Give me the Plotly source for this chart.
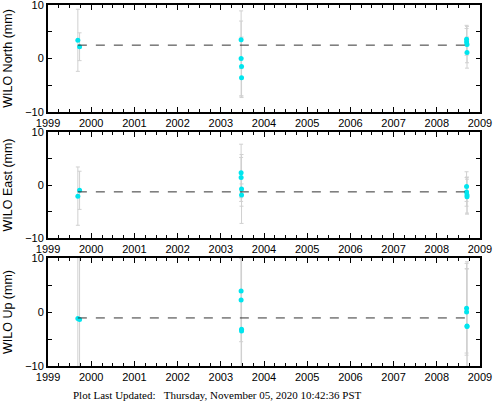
import plotly.graph_objects as go

# epoch times (decimal year) shared by the three components
epochs = [1999.69, 1999.73, 2003.47, 2003.47, 2003.48, 2003.48,
          2008.69, 2008.69, 2008.70, 2008.70]

north = [3.4, 2.2, 3.5, 0.0, -1.5, -3.6, 3.6, 3.1, 2.6, 1.1]
north_err = [5.8, 2.6, 5.4, 7.0, 5.5, 3.7, 2.6, 2.5, 3.4, 2.9]
north_mean = 2.5

east = [-2.1, -1.0, 2.3, 1.4, -0.75, -1.9, -0.3, -1.3, -1.9, -2.2]
east_err = [5.5, 3.6, 5.4, 3.8, 6.5, 2.1, 2.8, 2.7, 3.4, 3.3]
east_mean = -1.3

up = [-1.2, -1.4, 3.9, 2.2, -3.2, -3.5, 0.7, 0.0, -2.6, -2.7]
up_err = [13.0, 16.0, 14.0, 7.7, 14.0, 15.0, 8.3, 8.0, 10.6, 12.0]
up_mean = -1.1

panels = [
    ("WILO North (mm)", north, north_err, north_mean),
    ("WILO East (mm)", east, east_err, east_mean),
    ("WILO Up (mm)", up, up_err, up_mean),
]

W, H = 493, 404
x0, x1 = 48, 480
panel_px = [(5, 112), (132, 238), (258, 366)]

FONT = "Liberation Sans Narrow, Liberation Sans, Arial, sans-serif"

fig = go.Figure()
for i, (label, vals, errs, mean) in enumerate(panels):
    n = "" if i == 0 else str(i + 1)
    # error bars + points
    fig.add_trace(go.Scatter(
        x=epochs, y=vals, mode="markers",
        marker=dict(color="#00E5EE", size=5),
        error_y=dict(type="data", array=errs, visible=True,
                     color="#d0d0d0", thickness=1, width=2),
        xaxis="x" + n, yaxis="y" + n, showlegend=False,
    ))
    # mean line across the span of epochs
    fig.add_trace(go.Scatter(
        x=[epochs[0], epochs[-1]], y=[mean, mean], mode="lines",
        line=dict(color="#333333", width=1, dash="dash"),
        xaxis="x" + n, yaxis="y" + n, showlegend=False,
    ))
    top, bot = panel_px[i]
    axis_common = dict(
        showline=True, linecolor="black", linewidth=2, mirror="allticks",
        ticks="inside", tickcolor="black", showgrid=False, zeroline=False,
        automargin=False, ticklabeloverflow="allow",
        tickfont=dict(family=FONT, size=11, color="black"),
    )
    fig.update_layout(**{
        "xaxis" + n: dict(
            domain=[x0 / W, x1 / W], range=[1998.999, 2009.001], anchor="y" + n,
            tickvals=list(range(1999, 2010)), ticklen=5,
            minor=dict(ticks="inside", dtick=0.25, tick0=1999, ticklen=3,
                       tickcolor="black"),
            **axis_common),
        "yaxis" + n: dict(
            domain=[1 - bot / H, 1 - top / H], range=[-10, 10], anchor="x" + n,
            dtick=10, ticklen=4,
            minor=dict(ticks="inside", dtick=5, ticklen=4, tickcolor="black"),
            title=dict(text=label, font=dict(family=FONT, size=12.5, color="black"),
                       standoff=10),
            **axis_common),
    })

fig.add_annotation(
    text="Plot Last Updated:\u00a0\u00a0\u00a0Thursday, November 05, 2020 10:42:36 PST",
    xref="paper", yref="paper", x=71 / W, y=1 - 395 / H,
    xanchor="left", yanchor="middle", showarrow=False,
    font=dict(family="Liberation Serif, Times New Roman, serif", size=11, color="black"),
)

fig.update_layout(
    width=W, height=H, margin=dict(l=0, r=0, t=0, b=0),
    paper_bgcolor="white", plot_bgcolor="white",
)

# page fills the window exactly, so drop the browser's default body margin
fig.write_html("out.html", config={"displayModeBar": False},
               post_script="document.body.style.margin='0';")
